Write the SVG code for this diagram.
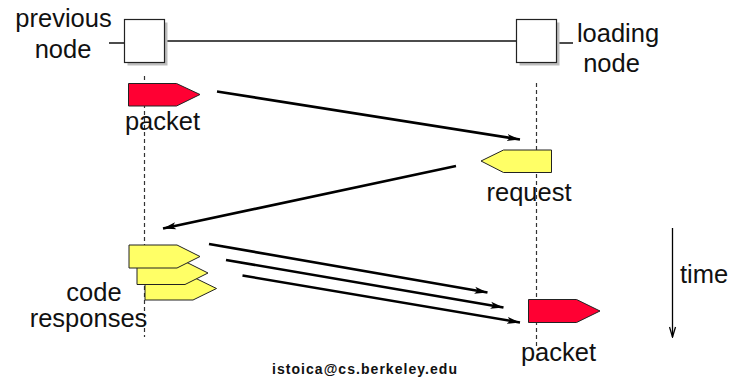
<svg xmlns="http://www.w3.org/2000/svg" width="733" height="379" viewBox="0 0 733 379">
<style>
  text { font-family: "Liberation Sans", Arial, sans-serif; font-size: 25.5px; fill: #111; }
  .lbl { text-anchor: middle; }
  .box { fill: #fff; stroke: #222; stroke-width: 1.2; }
  .shadow { fill: #bdbdbd; }
  .life { stroke: #333; stroke-width: 1.2; stroke-dasharray: 4 3; fill: none; }
  .wire { stroke: #111; stroke-width: 1.5; fill: none; }
  .red { fill: #FF0033; stroke: #222; stroke-width: 1; }
  .yel { fill: #FFFF66; stroke: #222; stroke-width: 1; }
  .arr { stroke: #000; stroke-width: 2.6; fill: none; marker-end: url(#ah); }
  .email { font-size: 14px; font-weight: bold; }
</style>
<defs>
  <marker id="ah" markerUnits="userSpaceOnUse" markerWidth="14" markerHeight="10" refX="13" refY="4" orient="auto">
    <path d="M0,0.5 L13,4 L0,7.5 L3,4 z" fill="#000"/>
  </marker>
  <marker id="vh" markerUnits="userSpaceOnUse" markerWidth="10" markerHeight="12" refX="4" refY="11" orient="0">
    <path d="M1,1 L4,11 L7,1" fill="none" stroke="#000" stroke-width="1.3"/>
  </marker>
</defs>

<g id="lifelines">
  <line class="life" x1="144.5" y1="76" x2="144.5" y2="337"/>
  <line class="life" x1="536.5" y1="83" x2="536.5" y2="346"/>
</g>

<g id="link">
  <line class="wire" x1="109" y1="43" x2="124.5" y2="43"/>
  <line class="wire" x1="164.5" y1="41" x2="516" y2="41"/>
  <line class="wire" x1="557" y1="43" x2="573" y2="43"/>
</g>

<g id="previous-node">
  <rect class="shadow" x="127.5" y="22.5" width="40" height="43"/>
  <rect class="box" x="124.5" y="19.5" width="40" height="43"/>
  <text class="lbl" x="63.5" y="27">previous</text>
  <text class="lbl" x="63" y="58">node</text>
</g>

<g id="loading-node">
  <rect class="shadow" x="519.5" y="22.5" width="40" height="43"/>
  <rect class="box" x="516.5" y="19.5" width="40" height="43"/>
  <text class="lbl" x="618" y="42">loading</text>
  <text class="lbl" x="611.5" y="72">node</text>
</g>

<g id="packet-sent">
  <polygon class="red" points="128.5,83.5 176.5,83.5 200,94.5 176.5,106 128.5,106"/>
  <text class="lbl" x="162.5" y="130">packet</text>
</g>

<g id="request">
  <polygon class="yel" points="551.5,150 503.5,150 481,161 503.5,172.5 551.5,172.5"/>
  <text class="lbl" x="529" y="201">request</text>
</g>

<g id="code-responses">
  <polygon class="yel" points="145,277 193,277 216.5,288.5 193,300 145,300"/>
  <polygon class="yel" points="137,261.5 185,261.5 208,273 185,284.5 137,284.5"/>
  <polygon class="yel" points="129,245 177,245 200,256.5 177,268 129,268"/>
  <text class="lbl" x="94" y="301">code</text>
  <text class="lbl" x="88.5" y="327">responses</text>
</g>

<g id="packet-received">
  <polygon class="red" points="528.5,299.5 576.5,299.5 600,311 576.5,322.5 528.5,322.5"/>
  <text class="lbl" x="558.5" y="361">packet</text>
</g>

<g id="connectors">
  <line class="arr" x1="217" y1="91.5" x2="520" y2="139.5"/>
  <line class="arr" x1="456" y1="166" x2="163" y2="228.5"/>
  <line class="arr" x1="209" y1="244" x2="487.5" y2="292.5"/>
  <line class="arr" x1="226" y1="260" x2="503.5" y2="307.5"/>
  <line class="arr" x1="242.5" y1="275.5" x2="520" y2="322.5"/>
</g>

<g id="time">
  <line x1="672.5" y1="228" x2="672.5" y2="337" stroke="#000" stroke-width="1.3" marker-end="url(#vh)"/>
  <text x="680" y="283">time</text>
</g>

<g id="footer">
  <text class="email" x="272" y="374" textLength="185" lengthAdjust="spacing">istoica@cs.berkeley.edu</text>
</g>
</svg>
